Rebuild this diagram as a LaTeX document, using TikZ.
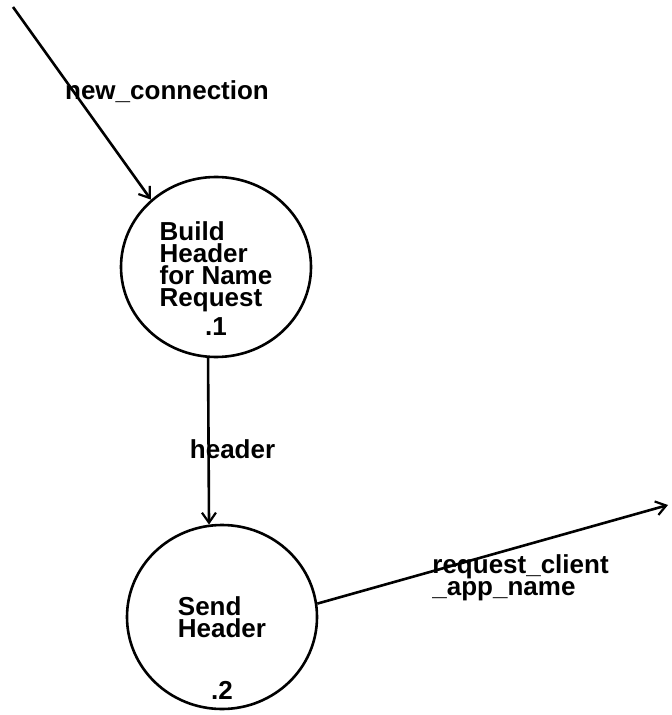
\documentclass[tikz,border=0pt]{standalone}
\usepackage{fontspec}
\setmainfont{Liberation Sans}
\usetikzlibrary{arrows.meta,shapes.geometric}

\begin{document}
\begin{tikzpicture}[x=0.5pt,y=-0.5pt,
    every node/.style={font=\bfseries\fontsize{13}{11}\selectfont, inner sep=0pt},
    proc/.style={draw, ellipse, line width=1.3pt, minimum width=95pt, minimum height=90pt, align=left},
    flow/.style={line width=1.3pt, -{Straight Barb[length=5pt,width=7pt,line width=1.1pt]}},
    flowlbl/.style={align=left}]
    \useasboundingbox (0,0) rectangle (671,715);
    % processes
    \node[proc] (build) at (216,267) {Build\\Header\\for Name\\Request};
    \node (num1) at ([yshift=16pt]build.south) {.1};
    \node[proc, minimum height=92pt] (send) at (222,617) {Send\\Header};
    \node (num2) at ([yshift=10pt]send.south) {.2};
    \coordinate (src) at (13,7);
    \coordinate (sink) at (668,505);
    % flows
    \node (lnew) at (167,92) {new\_connection};
    \draw[flow] (src) -- (build.134);
    \draw[flow] (build.265) -- node[pos=.55, xshift=12pt] (lhdr) {header} (send.98);
    \node[flowlbl, anchor=north west] (lreq) at (432,554) {request\_client\\\_app\_name};
    \draw[flow] (send.8) -- (sink);
  \end{tikzpicture}
\end{document}
